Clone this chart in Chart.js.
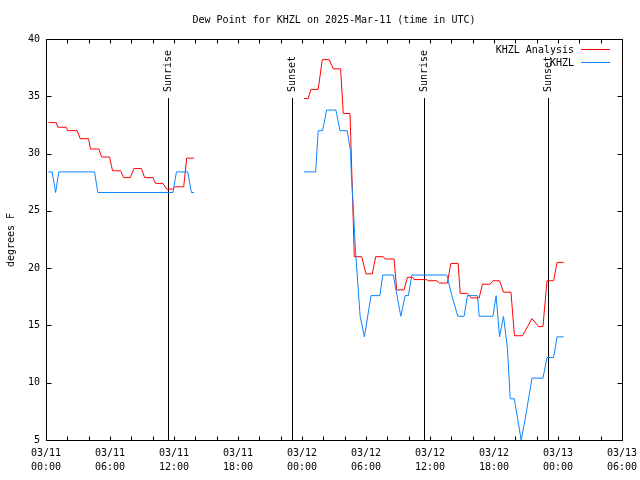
<!DOCTYPE html>
<html>
<head>
<meta charset="utf-8">
<script src="https://cdn.jsdelivr.net/npm/chart.js@4/dist/chart.umd.min.js"></script>
<style>
  body { margin: 0; background: #fff; }
  canvas { display: block; }
</style>
</head>
<body>
<canvas id="dewChart" width="640" height="480"></canvas>
<script>
// Hours since 03/11 00:00 UTC, null = data gap
const analysisHours = [0.23, 0.96, 1.1, 1.9, 2.03, 2.93, 3.21, 3.99, 4.17, 4.96, 5.21, 5.96, 6.24, 7.0, 7.28, 7.9, 8.24, 8.94, 9.25, 10.03, 10.28, 10.97, 11.31, 11.9, 12.07, 12.91, 13.19, 13.88,
    18,
    24.18, 24.58, 24.84, 25.52, 25.9, 26.55, 26.93, 27.62, 27.87, 28.5, 28.75, 28.9, 29.6, 30.0, 30.59, 30.91, 31.62, 31.78, 32.63, 32.88, 33.57, 33.88, 34.39, 34.51, 35.7, 35.82, 36.64, 36.88, 37.63, 37.95, 38.64, 38.83, 39.51, 39.86, 40.61, 40.92, 41.64, 41.9, 42.52, 42.89, 43.59, 43.92, 44.68, 45.56, 46.18, 46.59, 46.97, 47.59, 47.91, 48.53];
const analysisValues = [32.7, 32.7, 32.3, 32.3, 32.0, 32.0, 31.3, 31.3, 30.4, 30.4, 29.7, 29.7, 28.5, 28.5, 27.9, 27.9, 28.7, 28.7, 27.9, 27.9, 27.4, 27.4, 26.9, 26.9, 27.1, 27.1, 29.6, 29.6,
    null,
    34.8, 34.8, 35.6, 35.6, 38.2, 38.2, 37.4, 37.4, 33.5, 33.5, 25.9, 21.0, 21.0, 19.5, 19.5, 21.0, 21.0, 20.8, 20.8, 18.1, 18.1, 19.2, 19.2, 19.0, 19.0, 18.9, 18.9, 18.7, 18.7, 20.4, 20.4, 17.8, 17.8, 17.4, 17.4, 18.6, 18.6, 18.9, 18.9, 17.9, 17.9, 14.1, 14.1, 15.6, 14.9, 14.9, 18.9, 18.9, 20.5, 20.5];

const obsHours = [0.23, 0.58, 0.9, 1.2, 4.55, 4.86, 11.9, 12.23, 13.29, 13.63, 13.88,
    18,
    24.18, 25.28, 25.52, 25.93, 26.31, 27.18, 27.56, 28.24, 28.55, 28.62, 29.04, 29.45, 29.85, 30.47, 31.3, 31.57, 32.56, 33.26, 33.67, 33.97, 34.3, 37.58, 38.05, 38.61, 39.2, 39.51, 40.45, 40.61, 41.9, 42.2, 42.52, 42.89, 43.26, 43.52, 43.9, 44.55, 44.92, 45.56, 46.59, 46.97, 47.59, 47.91, 48.53];
const obsValues = [28.4, 28.4, 26.6, 28.4, 28.4, 26.6, 26.6, 28.4, 28.4, 26.6, 26.6,
    null,
    28.4, 28.4, 32.0, 32.0, 33.8, 33.8, 32.0, 32.0, 30.2, 28.4, 21.2, 15.8, 14.0, 17.6, 17.6, 19.4, 19.4, 15.8, 17.6, 17.6, 19.4, 19.4, 17.6, 15.8, 15.8, 17.6, 17.6, 15.8, 15.8, 17.6, 14.0, 15.8, 13.0, 8.6, 8.6, 5.0, 6.8, 10.4, 10.4, 12.2, 12.2, 14.0, 14.0];

// Axis labels every 6 hours
const tickDates = ['03/11', '03/11', '03/11', '03/11', '03/12', '03/12', '03/12', '03/12', '03/13', '03/13'];
const tickTimes = ['00:00', '06:00', '12:00', '18:00', '00:00', '06:00', '12:00', '18:00', '00:00', '06:00'];

// Sun events (hours)
const sunEvents = [11.42, 23.02, 35.4, 47.03];
const sunLabels = ['Sunrise', 'Sunset', 'Sunrise', 'Sunset'];

const FONT = '10px "DejaVu Sans Mono", monospace';
const RED = '#ff0000';
const BLUE = '#0a84ff';

const toPoints = (xs, ys) => xs.map((x, i) => ({ x: x, y: ys[i] }));

const gnuplotLook = {
    id: 'gnuplotLook',
    beforeDatasetsDraw(chart) {
        const ctx = chart.ctx, a = chart.chartArea, xs = chart.scales.x;
        ctx.save();
        ctx.strokeStyle = '#000';
        ctx.lineWidth = 1;
        ctx.fillStyle = '#000';
        ctx.font = FONT;
        sunEvents.forEach((h, i) => {
            const px = Math.round(xs.getPixelForValue(h)) + 0.5;
            ctx.beginPath();
            ctx.moveTo(px, 98);
            ctx.lineTo(px, a.bottom);
            ctx.stroke();
            ctx.save();
            ctx.translate(px, 92);
            ctx.rotate(-Math.PI / 2);
            ctx.textAlign = 'left';
            ctx.textBaseline = 'middle';
            ctx.fillText(sunLabels[i], 0, 0);
            ctx.restore();
        });
        ctx.restore();
    },
    afterDraw(chart) {
        const ctx = chart.ctx, a = chart.chartArea;
        const xs = chart.scales.x, ys = chart.scales.y;
        ctx.save();
        ctx.strokeStyle = '#000';
        ctx.lineWidth = 1;
        const L = Math.round(a.left) + 0.5, R = Math.round(a.right) + 0.5;
        const T = Math.round(a.top) + 0.5, B = Math.round(a.bottom) + 0.5;
        ctx.strokeRect(L, T, R - L, B - T);
        ctx.beginPath();
        for (let h = 0; h <= 54; h += 2) {
            const px = Math.round(xs.getPixelForValue(h)) + 0.5;
            ctx.moveTo(px, B); ctx.lineTo(px, B - 4);
            ctx.moveTo(px, T); ctx.lineTo(px, T + 4);
        }
        for (let v = 5; v <= 40; v += 5) {
            const py = Math.round(ys.getPixelForValue(v)) + 0.5;
            ctx.moveTo(L, py); ctx.lineTo(L + 5, py);
            ctx.moveTo(R, py); ctx.lineTo(R - 5, py);
        }
        ctx.stroke();

        ctx.fillStyle = '#000';
        ctx.font = FONT;
        ctx.textAlign = 'center';
        ctx.textBaseline = 'middle';
        ctx.fillText('Dew Point for KHZL on 2025-Mar-11 (time in UTC)', 334, 20);

        ctx.save();
        ctx.translate(11, 240);
        ctx.rotate(-Math.PI / 2);
        ctx.fillText('degrees F', 0, 0);
        ctx.restore();

        // legend
        const items = [['KHZL Analysis', RED, 50], ['KHZL', BLUE, 63]];
        items.forEach(([label, color, y]) => {
            ctx.textAlign = 'right';
            ctx.fillStyle = '#000';
            ctx.fillText(label, 574, y);
            ctx.strokeStyle = color;
            ctx.beginPath();
            ctx.moveTo(581, y - 0.5);
            ctx.lineTo(610, y - 0.5);
            ctx.stroke();
        });
        ctx.restore();
    }
};

new Chart(document.getElementById('dewChart').getContext('2d'), {
    type: 'line',
    data: {
        datasets: [{
            label: 'KHZL Analysis',
            data: toPoints(analysisHours, analysisValues),
            borderColor: RED,
            borderWidth: 1,
            pointRadius: 0,
            tension: 0,
            spanGaps: false,
            order: 1
        }, {
            label: 'KHZL',
            data: toPoints(obsHours, obsValues),
            borderColor: BLUE,
            borderWidth: 1,
            pointRadius: 0,
            tension: 0,
            spanGaps: false,
            order: 0
        }]
    },
    options: {
        responsive: false,
        animation: false,
        layout: { padding: { top: 39, right: 18, left: 0, bottom: 0 } },
        plugins: { legend: { display: false }, tooltip: { enabled: false } },
        scales: {
            x: {
                type: 'linear',
                min: 0,
                max: 54,
                afterFit: s => { s.height = 40; s.paddingLeft = 0; s.paddingRight = 0; },
                grid: { display: false, drawTicks: false },
                border: { display: false },
                ticks: {
                    stepSize: 6,
                    autoSkip: false,
                    maxRotation: 0,
                    padding: 6,
                    color: '#000',
                    font: { family: '"DejaVu Sans Mono", monospace', size: 10, lineHeight: 1.4 },
                    callback: v => {
                        const i = Math.round(v / 6);
                        return [tickDates[i], tickTimes[i]];
                    }
                }
            },
            y: {
                min: 5,
                max: 40,
                afterFit: s => { s.width = 46; s.paddingTop = 0; s.paddingBottom = 0; },
                grid: { display: false, drawTicks: false },
                border: { display: false },
                ticks: {
                    stepSize: 5,
                    padding: 6,
                    color: '#000',
                    font: { family: '"DejaVu Sans Mono", monospace', size: 10 }
                }
            }
        }
    },
    plugins: [gnuplotLook]
});
</script>
</body>
</html>
